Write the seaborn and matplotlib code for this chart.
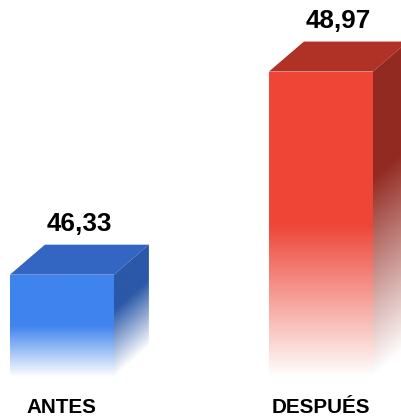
import numpy as np
import pandas as pd
import matplotlib
matplotlib.use("Agg")
import matplotlib.pyplot as plt
import seaborn as sns
from matplotlib.colors import to_rgb
from matplotlib.patches import Polygon

# Data
categories = ["ANTES", "DESPUÉS"]
values = [46.33, 48.97]
value_labels = ["46,33", "48,97"]

# Face colours of each 3D bar
front_colors = ["#3F84EE", "#EE4537"]
top_colors = ["#3366C2", "#B03226"]
side_colors = ["#2B58A8", "#922A21"]

sns.set_theme(style="white")
plt.rcParams["font.family"] = ["Liberation Sans", "DejaVu Sans"]

fig = plt.figure(figsize=(4.02, 4.18), dpi=100)
fig.patch.set_facecolor("white")
ax = fig.add_axes([0, 41 / 418, 1, 377 / 418])
ax.set_facecolor("white")

df = pd.DataFrame({"periodo": categories, "valor": values})
sns.barplot(data=df, x="periodo", y="valor", width=0.4015, errorbar=None,
            color="white", linewidth=0, ax=ax)

ax.set_xlim(-0.239, 1.313)
ax.set_ylim(45.0, 49.9)
sns.despine(ax=ax, left=True, bottom=True)
ax.set_yticks([])
ax.set_xlabel("")
ax.set_ylabel("")
ax.tick_params(axis="x", length=0, pad=15.3)
for lab in ax.get_xticklabels():
    lab.set_fontsize(14.9)
    lab.set_fontweight("bold")
    lab.set_color("black")

# Depth of the 3D effect, in pixels, converted to data units
DEPTH_X_PX, DEPTH_Y_PX = 35, 30
fig.canvas.draw()
p0 = ax.transData.transform((0, 45))
p1 = ax.transData.transform((1, 46))
ddx = DEPTH_X_PX / (p1[0] - p0[0])
ddy = DEPTH_Y_PX / (p1[1] - p0[1])

FRONT_FADE = 0.5   # fraction of height (from the base) that fades to white
SIDE_FADE = 0.65
y0 = ax.get_ylim()[0]

bars = list(ax.patches)
for patch, front, top, side in zip(bars, front_colors, top_colors, side_colors):
    patch.set_facecolor("none")
    x0 = patch.get_x()
    x1 = x0 + patch.get_width()
    y1 = patch.get_height()
    h = y1 - y0

    # front face: solid colour fading to white toward the base
    ys = np.linspace(y0, y1, 300)
    mix = np.clip((ys - y0) / (h * FRONT_FADE), 0, 1)[:, None]
    c = np.array(to_rgb(front))
    grad = (1 - mix) * 1.0 + mix * c
    img = ax.imshow(grad[:, None, :], extent=[x0, x1, y0, y1], origin="lower",
                    aspect="auto", interpolation="bilinear", zorder=2)
    img.set_clip_path(patch)

    # top face
    ax.add_patch(Polygon([(x0, y1), (x1, y1), (x1 + ddx, y1 + ddy), (x0 + ddx, y1 + ddy)],
                         closed=True, facecolor=top, edgecolor="none", zorder=3))

    # side face with a fade that follows its slanted base
    side_poly = Polygon([(x1, y0), (x1, y1), (x1 + ddx, y1 + ddy), (x1 + ddx, y0 + ddy)],
                        closed=True, facecolor="none", edgecolor="none", zorder=3)
    ax.add_patch(side_poly)
    nx, ny = 60, 400
    X, Y = np.meshgrid(np.linspace(x1, x1 + ddx, nx), np.linspace(y0, y1 + ddy, ny))
    s = (Y - y0 - (X - x1) * ddy / ddx) / h
    rgba = np.zeros((ny, nx, 4))
    rgba[..., :3] = to_rgb(side)
    rgba[..., 3] = np.clip(s / SIDE_FADE, 0, 1)
    simg = ax.imshow(rgba, extent=[x1, x1 + ddx, y0, y1 + ddy], origin="lower",
                     aspect="auto", interpolation="bilinear", zorder=3)
    simg.set_clip_path(side_poly)

# value labels above each bar
for i, patch in enumerate(bars):
    xc = patch.get_x() + patch.get_width() / 2
    ax.annotate(value_labels[i], xy=(xc, values[i]), xytext=(17, 44),
                textcoords="offset pixels", ha="center", va="baseline",
                fontsize=18.7, fontweight="bold", color="black", zorder=5,
                annotation_clip=False)

ax.set_xlim(-0.239, 1.313)
ax.set_ylim(45.0, 49.9)

fig.savefig("out.png", dpi=100, facecolor="white")
